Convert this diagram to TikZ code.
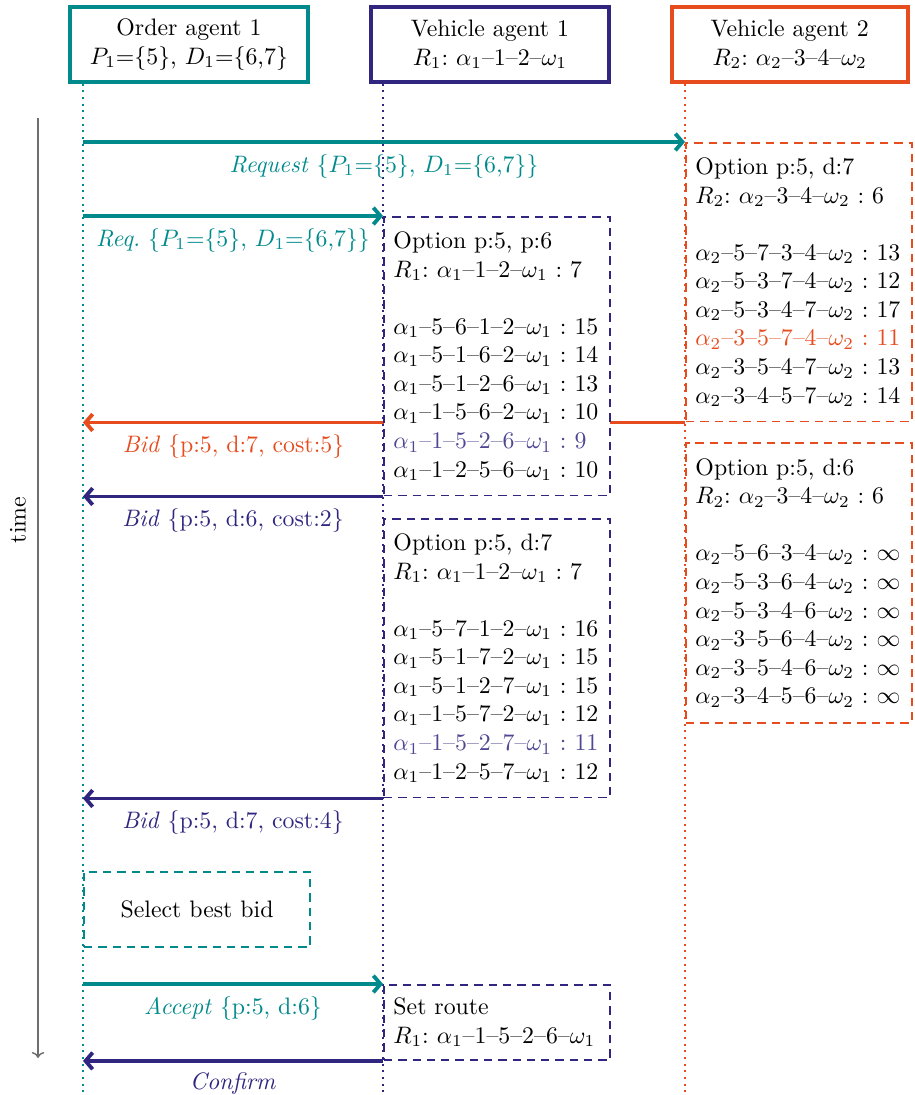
\documentclass[tikz,border=0pt]{standalone}
\definecolor{ordteal}{RGB}{0, 138, 140}
\definecolor{vehone}{RGB}{48, 38, 128}
\definecolor{vehtwo}{RGB}{230, 76, 30}
\definecolor{timegray}{RGB}{110, 110, 110}
\usepackage{amsmath, amssymb}
\usepackage{tikz}
\usetikzlibrary{arrows.meta, positioning, calc, backgrounds}
\frenchspacing

\begin{document}
\begin{tikzpicture}[x=0.42pt, y=-0.42pt,
    agent/.style={draw, line width=1.6pt, minimum width=100pt, minimum height=31.5pt, align=center, inner sep=2pt, anchor=north west},
    option/.style={draw, dash pattern=on 3.5pt off 2.5pt, line width=0.8pt, fill=white, text width=87pt, align=left, inner sep=4pt, anchor=north west},
    life/.style={dotted, line width=0.8pt},
    msg/.style={line width=1.6pt, -{Straight Barb[length=3pt, width=7pt]}},
    lbl/.style={below=1pt, text=#1}]
    \useasboundingbox (0,0) rectangle (915,1095);

    % agents
    \node[agent, draw=ordteal] (ord) at (68,5) {Order agent 1\\ $P_1$=\{5\}, $D_1$=\{6,7\}};
    \node[agent, draw=vehone] (veh1) at (369,5) {Vehicle agent 1\\ $R_1$: $\alpha_1$--1--2--$\omega_1$};
    \node[agent, draw=vehtwo, minimum width=99pt] (veh2) at (670,5) {Vehicle agent 2\\ $R_2$: $\alpha_2$--3--4--$\omega_2$};
    \coordinate (ordtop) at ($(ord.south west)+(15,0)$);
    \coordinate (veh1top) at ($(veh1.south west)+(14,0)$);
    \coordinate (veh2top) at ($(veh2.south west)+(15,0)$);
    \coordinate (ordbot) at (ordtop |- 0,1095);
    \coordinate (veh1bot) at (veh1top |- 0,1095);
    \coordinate (veh2bot) at (veh2top |- 0,1095);

    % time axis
    \coordinate (tstart) at (38,118);
    \coordinate (tend) at (38,1058);
    \draw[timegray, line width=0.6pt, -{To[length=2.5pt]}] (tstart) -- (tend);
    \node[rotate=90] (timelbl) at (18,520) {time};

    % options of vehicle agent 2
    \node[option, draw=vehtwo, minimum height=117pt] (optB) at (veh2top |- 0,142) {Option p:5, d:7\\ $R_2$: $\alpha_2$--3--4--$\omega_2$~:~6\\[12pt]
      $\alpha_2$--5--7--3--4--$\omega_2$~:~13\\
      $\alpha_2$--5--3--7--4--$\omega_2$~:~12\\
      $\alpha_2$--5--3--4--7--$\omega_2$~:~17\\
      \textcolor{vehtwo}{$\alpha_2$--3--5--7--4--$\omega_2$~:~11}\\
      $\alpha_2$--3--5--4--7--$\omega_2$~:~13\\
      $\alpha_2$--3--4--5--7--$\omega_2$~:~14};
    \node[option, draw=vehtwo, minimum height=117.5pt] (optD) at (veh2top |- 0,442) {Option p:5, d:6\\ $R_2$: $\alpha_2$--3--4--$\omega_2$~:~6\\[12pt]
      $\alpha_2$--5--6--3--4--$\omega_2$~:~$\infty$\\
      $\alpha_2$--5--3--6--4--$\omega_2$~:~$\infty$\\
      $\alpha_2$--5--3--4--6--$\omega_2$~:~$\infty$\\
      $\alpha_2$--3--5--6--4--$\omega_2$~:~$\infty$\\
      $\alpha_2$--3--5--4--6--$\omega_2$~:~$\infty$\\
      $\alpha_2$--3--4--5--6--$\omega_2$~:~$\infty$};

    % options of vehicle agent 1
    \node[option, draw=vehone, minimum height=117pt] (optA) at (veh1top |- 0,216) {Option p:5, p:6\\ $R_1$: $\alpha_1$--1--2--$\omega_1$~:~7\\[12pt]
      $\alpha_1$--5--6--1--2--$\omega_1$~:~15\\
      $\alpha_1$--5--1--6--2--$\omega_1$~:~14\\
      $\alpha_1$--5--1--2--6--$\omega_1$~:~13\\
      $\alpha_1$--1--5--6--2--$\omega_1$~:~10\\
      \textcolor{vehone!85!white}{$\alpha_1$--1--5--2--6--$\omega_1$~:~9}\\
      $\alpha_1$--1--2--5--6--$\omega_1$~:~10};
    \node[option, draw=vehone, minimum height=117pt] (optC) at (veh1top |- 0,518) {Option p:5, d:7\\ $R_1$: $\alpha_1$--1--2--$\omega_1$~:~7\\[12pt]
      $\alpha_1$--5--7--1--2--$\omega_1$~:~16\\
      $\alpha_1$--5--1--7--2--$\omega_1$~:~15\\
      $\alpha_1$--5--1--2--7--$\omega_1$~:~15\\
      $\alpha_1$--1--5--7--2--$\omega_1$~:~12\\
      \textcolor{vehone!85!white}{$\alpha_1$--1--5--2--7--$\omega_1$~:~11}\\
      $\alpha_1$--1--2--5--7--$\omega_1$~:~12};

    % selection and final route
    \node[option, draw=ordteal, minimum height=31.5pt, align=center] (select) at (ordtop |- 0,871) {Select best bid};
    \node[option, draw=vehone, minimum height=31.5pt] (route) at (veh1top |- 0,984) {Set route\\ $R_1$: $\alpha_1$--1--5--2--6--$\omega_1$};

    \begin{scope}[on background layer]
      \draw[life, ordteal] (ordtop) -- (ordbot);
      \draw[life, vehone] (veh1top) -- (veh1bot);
      \draw[life, vehtwo] (veh2top) -- (veh2bot);

      % messages
      \draw[msg, ordteal] (ordtop |- optB.north west) -- node[lbl=ordteal] (reqB) {\textit{Request} \{$P_1$=\{5\}, $D_1$=\{6,7\}\}} (optB.north west);
      \draw[msg, ordteal] (ordtop |- optA.north west) -- node[lbl=ordteal] (reqA) {\textit{Req.} \{$P_1$=\{5\}, $D_1$=\{6,7\}\}} (optA.north west);
      \draw[msg, vehtwo] (optB.south west) -- node[lbl=vehtwo, pos=0.75] (bidB) {\textit{Bid} \{p:5, d:7, cost:5\}} (ordtop |- optB.south west);
      \draw[msg, vehone] (optA.south west) -- node[lbl=vehone] (bidA) {\textit{Bid} \{p:5, d:6, cost:2\}} (ordtop |- optA.south west);
      \draw[msg, vehone] (optC.south west) -- node[lbl=vehone] (bidC) {\textit{Bid} \{p:5, d:7, cost:4\}} (ordtop |- optC.south west);
      \draw[msg, ordteal] (ordtop |- route.north west) -- node[lbl=ordteal] (accept) {\textit{Accept} \{p:5, d:6\}} (route.north west);
      \draw[msg, vehone] (route.south west) -- node[lbl=vehone] (confirm) {\textit{Confirm}} (ordtop |- route.south west);
    \end{scope}
\end{tikzpicture}
\end{document}
